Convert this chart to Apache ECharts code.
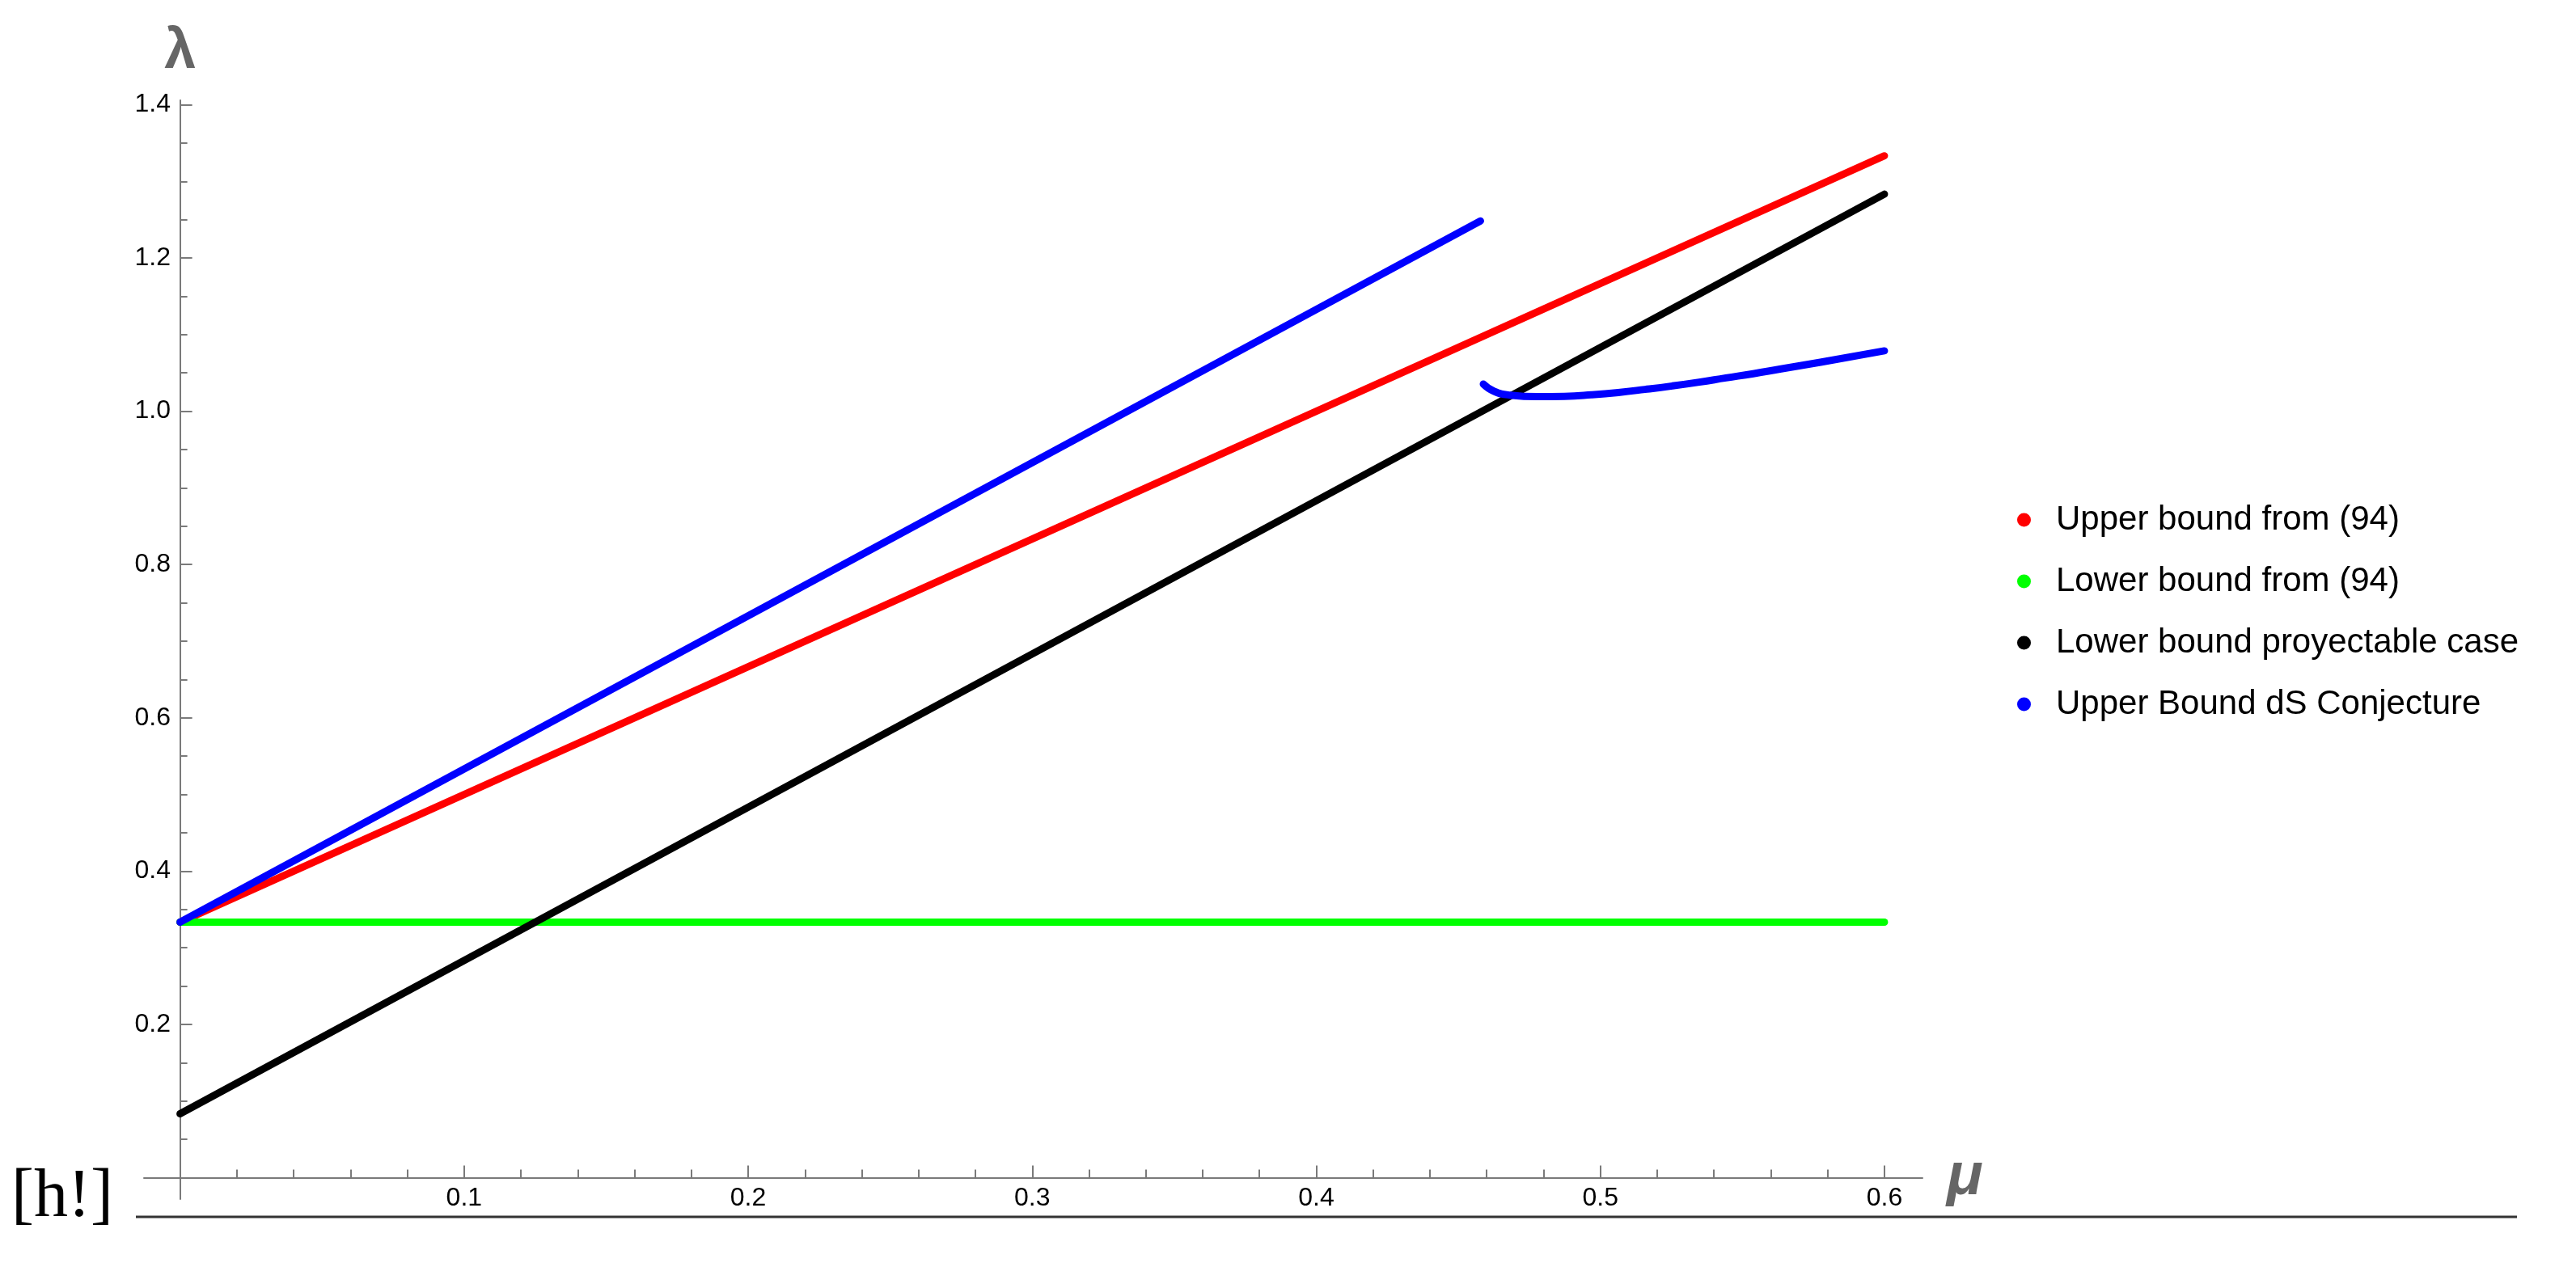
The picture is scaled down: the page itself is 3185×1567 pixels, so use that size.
<!DOCTYPE html>
<html>
<head>
<meta charset="utf-8">
<script src="https://cdn.jsdelivr.net/npm/echarts@6/dist/echarts.min.js"></script>
<style>
  html, body { margin: 0; padding: 0; background: #fff; }
  #chart { width: 3185px; height: 1567px; }
</style>
</head>
<body>
<div id="chart"></div>
<script>
  // values
  const muEnds = [0, 0.6]
  const upperBound94 = [0.3333, 1.3333]
  const lowerBound94 = [0.3333, 0.3333]
  const lowerProyectable = [0.0833, 1.2833]

  const dsLineMu = [0, 0.4578]
  const dsLineLambda = [0.3333, 1.2483]
  const dsCurveMu = [0.4588, 0.4626, 0.4683, 0.4778, 0.4873, 0.4968, 0.5063, 0.5157, 0.5253, 0.5348, 0.5442, 0.5538, 0.5632, 0.5775, 0.6]
  const dsCurveLambda = [1.0355, 1.026, 1.021, 1.019, 1.0195, 1.0215, 1.0245, 1.0285, 1.033, 1.038, 1.0435, 1.049, 1.055, 1.064, 1.0788]

  const xTicks = [0.1, 0.2, 0.3, 0.4, 0.5, 0.6]
  const yTicks = [0.2, 0.4, 0.6, 0.8, 1.0, 1.2, 1.4]
  const legendNames = ['Upper bound from (94)', 'Lower bound from (94)', 'Lower bound proyectable case', 'Upper Bound dS Conjecture']

  const pairs = (xs, ys) => xs.map((x, i) => [x, ys[i]])

  const axisGrey = '#7a7a7a'
  const labelFont = { fontFamily: 'Liberation Sans', fontSize: 32, color: '#000' }

  function lineSeries (name, color, data, smooth) {
    return {
      name,
      type: 'line',
      data,
      showSymbol: false,
      symbol: 'none',
      smooth: smooth || false,
      color,
      itemStyle: { color },
      lineStyle: { color, width: 9, cap: 'round', join: 'round' },
      z: 3
    }
  }

  const chart = echarts.init(document.getElementById('chart'))
  chart.setOption({
    animation: false,
    backgroundColor: '#fff',
    grid: { left: 178, right: 808, top: 124, bottom: 84 },
    legend: {
      data: legendNames,
      orient: 'vertical',
      left: 2494,
      top: 622,
      padding: 0,
      icon: 'circle',
      itemWidth: 17,
      itemHeight: 17,
      itemGap: 34,
      textStyle: {
        fontFamily: 'Liberation Sans',
        fontSize: 42,
        lineHeight: 42,
        color: '#000',
        padding: [0, 0, 0, 26]
      }
    },
    xAxis: {
      type: 'value',
      min: -0.0127,
      max: 0.6134,
      minInterval: 0.1,
      maxInterval: 0.1,
      name: 'μ',
      nameLocation: 'end',
      nameGap: 30,
      nameTextStyle: { fontFamily: 'Liberation Sans', fontSize: 74, fontWeight: 'bold', fontStyle: 'italic', color: '#666', padding: [46, 0, 0, 0] },
      axisLine: { onZero: true, lineStyle: { color: axisGrey, width: 2 } },
      axisTick: { inside: true, length: 15, customValues: xTicks, lineStyle: { color: axisGrey, width: 2 } },
      minorTick: { show: true, splitNumber: 5, length: 10, lineStyle: { color: axisGrey, width: 2 } },
      // labels sit at the grid edge, pull them up to the zero line
      axisLabel: { customValues: xTicks, margin: -17, ...labelFont },
      splitLine: { show: false }
    },
    yAxis: {
      type: 'value',
      min: -0.028,
      max: 1.4058,
      minInterval: 0.2,
      maxInterval: 0.2,
      name: 'λ',
      nameLocation: 'end',
      nameGap: 24,
      nameTextStyle: { fontFamily: 'Liberation Sans', fontSize: 70, fontWeight: 'bold', color: '#666' },
      axisLine: { onZero: true, lineStyle: { color: axisGrey, width: 2 } },
      axisTick: { inside: true, length: 15, customValues: yTicks, lineStyle: { color: axisGrey, width: 2 } },
      minorTick: { show: true, splitNumber: 4, length: 9, lineStyle: { color: axisGrey, width: 2 } },
      axisLabel: { customValues: yTicks, margin: -33, formatter: v => v.toFixed(1), ...labelFont },
      splitLine: { show: false }
    },
    series: [
      lineSeries(legendNames[0], '#ff0000', pairs(muEnds, upperBound94)),
      lineSeries(legendNames[1], '#00ff00', pairs(muEnds, lowerBound94)),
      lineSeries(legendNames[2], '#000000', pairs(muEnds, lowerProyectable)),
      lineSeries(legendNames[3], '#0000ff', pairs(dsLineMu, dsLineLambda)),
      lineSeries(legendNames[3], '#0000ff', pairs(dsCurveMu, dsCurveLambda), 0.5)
    ],
    graphic: [
      {
        type: 'text',
        left: 14,
        top: 1440,
        style: { text: '[h!]', fontFamily: 'Liberation Serif', fontSize: 84, fill: '#000' }
      },
      {
        type: 'line',
        shape: { x1: 168, y1: 1505, x2: 3112, y2: 1505 },
        style: { stroke: '#333', lineWidth: 3 }
      }
    ]
  })
</script>
</body>
</html>
